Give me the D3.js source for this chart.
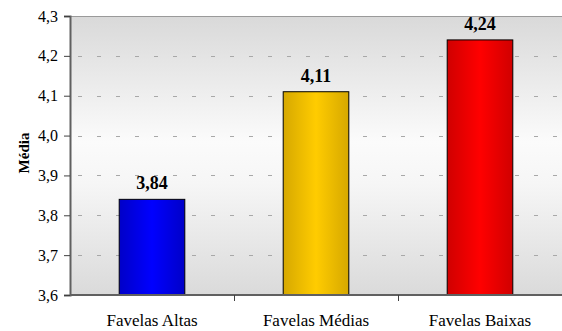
<!DOCTYPE html>
<html>
<head>
<meta charset="utf-8">
<script src="https://cdn.jsdelivr.net/npm/d3@7"></script>
<style>
  html, body { margin: 0; padding: 0; background: #fff; }
  svg { display: block; }
</style>
</head>
<body>
<svg id="chart" width="562" height="331"></svg>
<script>
// Mean score by favela group
const categories = ["Favelas Altas", "Favelas Médias", "Favelas Baixas"];
const values = [3.84, 4.11, 4.24];
const valueLabels = ["3,84", "4,11", "4,24"];
const yTicks = [3.6, 3.7, 3.8, 3.9, 4.0, 4.1, 4.2, 4.3];
const yTickLabels = ["3,6", "3,7", "3,8", "3,9", "4,0", "4,1", "4,2", "4,3"];
const barColors = [
  { edge: "#0000c8", mid: "#0000ff" },
  { edge: "#d6a800", mid: "#ffcc00" },
  { edge: "#d00000", mid: "#ff0000" }
];

const FONT = '"Liberation Serif"';
const svg = d3.select("#chart");
const plotLeft = 70, plotRight = 562, plotTop = 16, plotBottom = 295;

const x = d3.scaleBand().domain(categories).range([plotLeft, plotRight]).paddingInner(0).paddingOuter(0);
const y = d3.scaleLinear().domain([3.6, 4.3]).range([plotBottom, plotTop]);

const defs = svg.append("defs");
const bg = defs.append("linearGradient").attr("id", "bg")
  .attr("x1", 0).attr("y1", 0).attr("x2", 0).attr("y2", 1);
bg.append("stop").attr("offset", "0%").attr("stop-color", "#d9d9d9");
bg.append("stop").attr("offset", "45%").attr("stop-color", "#fbfbfb");
bg.append("stop").attr("offset", "60%").attr("stop-color", "#f6f6f6");
bg.append("stop").attr("offset", "100%").attr("stop-color", "#dadada");

barColors.forEach((c, i) => {
  const g = defs.append("linearGradient").attr("id", "bar" + i)
    .attr("x1", 0).attr("y1", 0).attr("x2", 1).attr("y2", 0);
  g.append("stop").attr("offset", "0%").attr("stop-color", c.edge);
  g.append("stop").attr("offset", "50%").attr("stop-color", c.mid);
  g.append("stop").attr("offset", "100%").attr("stop-color", c.edge);
});

// plot background
svg.append("rect")
  .attr("x", plotLeft).attr("y", plotTop)
  .attr("width", plotRight - plotLeft).attr("height", plotBottom - plotTop)
  .attr("fill", "url(#bg)");

// top border
svg.append("line")
  .attr("x1", plotLeft).attr("x2", plotRight).attr("y1", plotTop + 0.5).attr("y2", plotTop + 0.5)
  .attr("stroke", "#9a9a9a").attr("stroke-width", 1);

// dashed gridlines
svg.append("g")
  .selectAll("line")
  .data(yTicks.filter(t => t > 3.6 && t < 4.3))
  .join("line")
  .attr("x1", plotLeft + 8).attr("x2", plotRight)
  .attr("y1", d => Math.round(y(d)) + 0.5).attr("y2", d => Math.round(y(d)) + 0.5)
  .attr("stroke", "#a8a8a8").attr("stroke-width", 1)
  .attr("stroke-dasharray", "4,15");

// bars
const barW = x.bandwidth() * 0.4;
svg.append("g")
  .selectAll("rect")
  .data(categories)
  .join("rect")
  .attr("x", d => x(d) + (x.bandwidth() - barW) / 2)
  .attr("y", (d, i) => y(values[i]))
  .attr("width", barW)
  .attr("height", (d, i) => plotBottom - y(values[i]))
  .attr("fill", (d, i) => `url(#bar${i})`)
  .attr("stroke", "#000").attr("stroke-width", 1);

// value labels
svg.append("g")
  .selectAll("text")
  .data(categories)
  .join("text")
  .attr("x", d => x(d) + x.bandwidth() / 2)
  .attr("y", (d, i) => y(values[i]) - 10)
  .attr("text-anchor", "middle")
  .style("font-family", FONT)
  .style("font-weight", "bold")
  .style("font-size", "18px")
  .attr("fill", "#000")
  .text((d, i) => valueLabels[i]);

// y axis
const yAxis = d3.axisLeft(y).tickValues(yTicks)
  .tickFormat((d, i) => yTickLabels[i]).tickSize(6).tickPadding(6);
const yg = svg.append("g").attr("transform", `translate(${plotLeft},0)`).call(yAxis);
yg.select(".domain").attr("stroke", "#606060").attr("stroke-width", 2);
yg.selectAll(".tick line").attr("stroke", "#404040");
yg.selectAll("text")
  .style("font-family", FONT)
  .style("font-size", "16px")
  .attr("fill", "#000");

// x axis: ticks sit between categories
const xg = svg.append("g");
xg.append("line")
  .attr("x1", plotLeft).attr("x2", plotRight).attr("y1", plotBottom).attr("y2", plotBottom)
  .attr("stroke", "#606060").attr("stroke-width", 2);
xg.selectAll("line.sep")
  .data(categories.slice(1))
  .join("line").attr("class", "sep")
  .attr("x1", d => Math.round(x(d)) + 0.5).attr("x2", d => Math.round(x(d)) + 0.5)
  .attr("y1", plotBottom).attr("y2", plotBottom + 6)
  .attr("stroke", "#404040");
xg.selectAll("text")
  .data(categories)
  .join("text")
  .attr("x", d => x(d) + x.bandwidth() / 2)
  .attr("y", 326)
  .attr("text-anchor", "middle")
  .style("font-family", FONT)
  .style("font-size", "17px")
  .attr("fill", "#000")
  .text(d => d);

// y axis title
svg.append("text")
  .attr("transform", "translate(29,153) rotate(-90)")
  .attr("text-anchor", "middle")
  .style("font-family", FONT)
  .style("font-weight", "bold")
  .style("font-size", "15px")
  .text("Média");
</script>
</body>
</html>
